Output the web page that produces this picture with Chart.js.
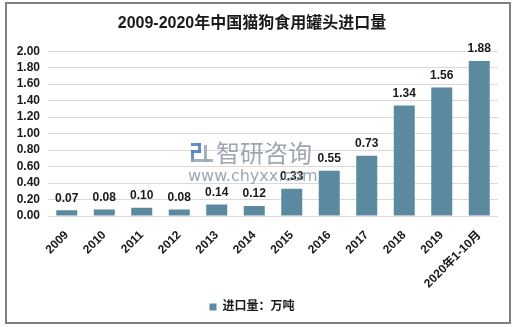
<!DOCTYPE html>
<html>
<head>
<meta charset="utf-8">
<script src="https://cdn.jsdelivr.net/npm/chart.js@4.4.0/dist/chart.umd.min.js"></script>
<style>
  html, body { margin: 0; padding: 0; background: #fff; }
  #wrap { position: relative; width: 515px; height: 327px; }
</style>
</head>
<body>
<div id="wrap"><canvas id="myChart" width="515" height="327"></canvas></div>
<script>
'use strict'

const years = ['2009', '2010', '2011', '2012', '2013', '2014', '2015', '2016', '2017', '2018', '2019', '2020年1-10月'];
const imports = [0.07, 0.08, 0.10, 0.08, 0.14, 0.12, 0.33, 0.55, 0.73, 1.34, 1.56, 1.88];
const yTicks = [0, 0.2, 0.4, 0.6, 0.8, 1.0, 1.2, 1.4, 1.6, 1.8, 2.0];

const barColor = '#5b8aa0';
const fontFamily = "'Liberation Sans', Arial, 'Noto Sans CJK SC', sans-serif";

// white background + grey frame round the whole chart
const frame = {
  id: 'frame',
  beforeDraw(chart) {
    const c = chart.ctx;
    c.save();
    c.fillStyle = '#fff';
    c.fillRect(0, 0, chart.width, chart.height);
    c.strokeStyle = '#808080';
    c.lineWidth = 2;
    c.strokeRect(6, 3, 504, 320);
    c.restore();
  }
};

// value above every bar
const barValues = {
  id: 'barValues',
  afterDatasetsDraw(chart) {
    const c = chart.ctx;
    const meta = chart.getDatasetMeta(0);
    c.save();
    c.font = 'bold 12px ' + fontFamily;
    c.fillStyle = '#1a1a1a';
    c.textAlign = 'center';
    c.textBaseline = 'bottom';
    meta.data.forEach(function(bar, i) {
      c.fillText(imports[i].toFixed(2), bar.x, bar.y - 6);
    });
    c.restore();
  }
};

// site watermark in the middle of the plot
const watermark = {
  id: 'watermark',
  afterDraw(chart) {
    const c = chart.ctx;
    c.save();
    c.globalAlpha = 0.85;
    // logo
    c.fillStyle = '#4d7fc0';
    c.fillRect(191, 143, 10, 3);
    c.fillRect(198, 143, 3, 10);
    c.fillRect(191, 150, 10, 3);
    c.fillRect(191, 150, 3, 12);
    c.fillStyle = '#9aa3ad';
    c.fillRect(204, 145, 3, 17);
    c.fillRect(191, 159, 22, 3);
    c.fillStyle = '#8c96a2';
    c.font = "24px 'Noto Sans CJK SC', sans-serif";
    c.textBaseline = 'middle';
    c.fillText('智研咨询', 216, 153);
    c.font = "16px 'DejaVu Sans', sans-serif";
    c.fillText('www.chyxx.com', 188, 177);
    c.restore();
  }
};

const ctx = document.getElementById('myChart');

new Chart(ctx, {
  type: 'bar',
  data: {
    labels: years,
    datasets: [{
      label: '进口量：万吨',
      data: imports,
      backgroundColor: barColor,
      borderWidth: 0,
      categoryPercentage: 0.56,
      barPercentage: 1
    }]
  },
  options: {
    responsive: false,
    animation: false,
    layout: {
      padding: { left: 6, right: 17, top: 0, bottom: 4 }
    },
    plugins: {
      title: {
        display: true,
        text: '2009-2020年中国猫狗食用罐头进口量',
        color: '#1a1a1a',
        font: { family: fontFamily, size: 16, weight: 'bold' },
        padding: { top: 14, bottom: 18 }
      },
      legend: {
        position: 'bottom',
        labels: {
          color: '#1a1a1a',
          font: { family: fontFamily, size: 12, weight: 'bold' },
          boxWidth: 7,
          boxHeight: 7,
          padding: 8
        }
      },
      tooltip: { enabled: false }
    },
    scales: {
      x: {
        grid: { display: false },
        border: { display: false },
        ticks: {
          color: '#1a1a1a',
          font: { family: fontFamily, size: 12, weight: 'bold' },
          maxRotation: 45,
          minRotation: 45,
          autoSkip: false,
          padding: 4
        },
        afterFit(scale) { scale.height = 77; }
      },
      y: {
        min: 0,
        max: 2,
        afterBuildTicks(scale) {
          scale.ticks = yTicks.map(function(v) { return { value: v }; });
        },
        grid: { color: '#d9d9d9', drawTicks: false },
        border: { display: false },
        ticks: {
          color: '#1a1a1a',
          font: { family: fontFamily, size: 12, weight: 'bold' },
          padding: 8,
          autoSkip: false,
          callback: function(v) { return Number(v).toFixed(2); }
        },
        afterFit(scale) { scale.width = 42; }
      }
    }
  },
  plugins: [frame, barValues, watermark]
});
</script>
</body>
</html>
